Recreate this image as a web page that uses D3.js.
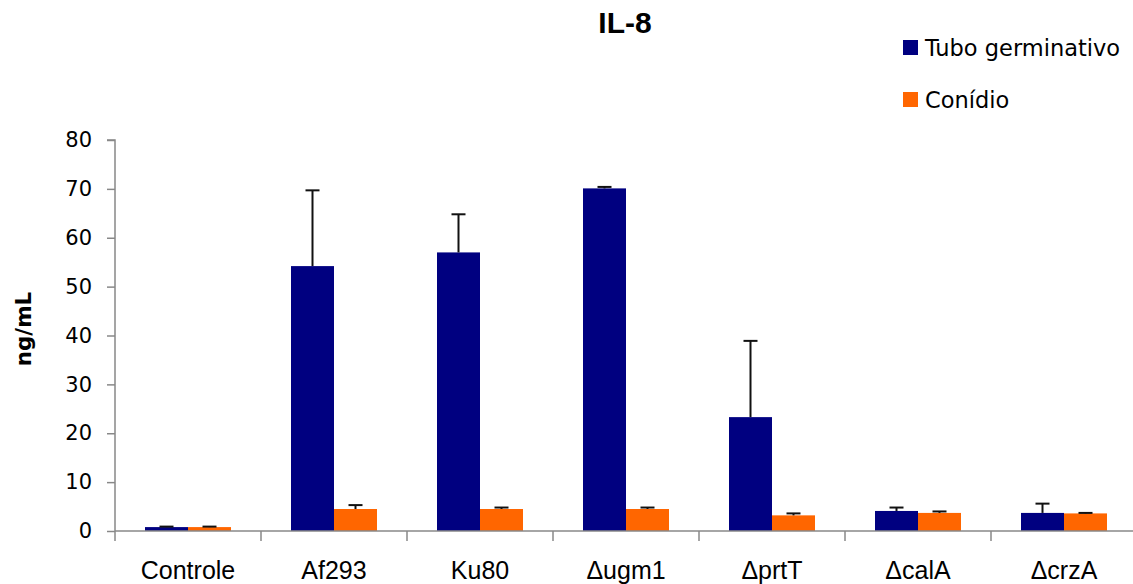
<!DOCTYPE html>
<html><head><meta charset="utf-8">
<script src="https://cdn.jsdelivr.net/npm/d3@7"></script>
<style>body{margin:0;background:#fff}svg{display:block}</style>
</head><body>
<svg id="c" width="1133" height="584"></svg>
<script>
const categories = ["Controle","Af293","Ku80","\u0394ugm1","\u0394prtT","\u0394calA","\u0394crzA"];
const seriesNames = ["Tubo germinativo","Conídio"];
const tuboValues = [0.8, 54.2, 57.0, 70.1, 23.3, 4.1, 3.7];
const tuboErrors = [0.1, 15.5, 7.8, 0.3, 15.6, 0.7, 1.9];
const conidioValues = [0.8, 4.5, 4.5, 4.5, 3.2, 3.7, 3.6];
const conidioErrors = [0.1, 0.8, 0.3, 0.3, 0.4, 0.3, 0.1];
const yTicks = [0,10,20,30,40,50,60,70,80];
const colors = ["#000080","#FF6600"];

const svg = d3.select("#c");
const x0 = 115, x1 = 1137, yTop = 140, yBot = 531;
const x = d3.scaleBand().domain(categories).range([x0, x1]).paddingInner(0).paddingOuter(0);
const y = d3.scaleLinear().domain([0,80]).range([yBot, yTop]);
const barW = 43;
const sub = d3.scaleBand().domain([0,1]).range([-barW, barW]);

// axes
const yAxis = d3.axisLeft(y).tickValues(yTicks).tickSize(8).tickPadding(15);
const gy = svg.append("g").attr("transform",`translate(${x0},0)`).call(yAxis);
gy.select(".domain").attr("stroke","#888").attr("stroke-width",1.5).attr("d",`M-8,${yTop}H0V${yBot}`);
gy.selectAll(".tick line").attr("stroke","#888").attr("stroke-width",1.5);
gy.selectAll(".tick text").attr("font-family","DejaVu Sans, Verdana, sans-serif").attr("font-size",21).attr("fill","#000");

const series = [
  {vals: tuboValues, errs: tuboErrors},
  {vals: conidioValues, errs: conidioErrors}
];
series.forEach((s,si)=>{
  const g = svg.append("g");
  categories.forEach((c,i)=>{
    const cx = x(c) + x.bandwidth()/2;
    const bx = cx + sub(si);
    g.append("rect").attr("x",bx).attr("width",barW)
      .attr("y",y(s.vals[i])).attr("height",y(0)-y(s.vals[i]))
      .attr("fill",colors[si]);
  });
});
series.forEach((s,si)=>{
  const g = svg.append("g").attr("stroke","#111").attr("stroke-width",2);
  categories.forEach((c,i)=>{
    const cx = x(c) + x.bandwidth()/2;
    const mx = cx + sub(si) + barW/2;
    const top = y(s.vals[i]+s.errs[i]);
    g.append("line").attr("x1",mx).attr("x2",mx).attr("y1",y(s.vals[i])).attr("y2",top);
    g.append("line").attr("x1",mx-7).attr("x2",mx+7).attr("y1",top).attr("y2",top);
  });
});

const xAxis = d3.axisBottom(x).tickSize(0).tickPadding(30);
const gx = svg.append("g").attr("transform",`translate(0,${yBot})`).call(xAxis);
gx.select(".domain").attr("stroke","#888").attr("stroke-width",1.5).attr("d",`M${x0},0H${x1}`);
gx.selectAll(".tick text").attr("font-family","Liberation Sans, Arial, sans-serif").attr("font-size",25).attr("fill","#000");
categories.forEach((c)=>{
  gx.append("line").attr("x1",x(c)).attr("x2",x(c)).attr("y1",0).attr("y2",10).attr("stroke","#888").attr("stroke-width",1.5);
});

// title
svg.append("text").attr("x",625).attr("y",33).attr("text-anchor","middle")
  .attr("font-family","Liberation Sans, Arial, sans-serif").attr("font-weight","bold").attr("font-size",30).text("IL-8");
// y label
svg.append("text").attr("transform","translate(31,329) rotate(-90)").attr("text-anchor","middle")
  .attr("font-family","DejaVu Sans, Verdana, sans-serif").attr("font-weight","bold").attr("font-size",21.5).text("ng/mL");

// legend
const leg = svg.append("g");
seriesNames.forEach((n,i)=>{
  const ly = 40 + i*52;
  leg.append("rect").attr("x",903).attr("y",ly).attr("width",15).attr("height",15).attr("fill",colors[i]);
  leg.append("text").attr("x",925).attr("y",ly+16).attr("font-family","DejaVu Sans, Verdana, sans-serif")
    .attr("font-size",22.5).attr("fill","#000").text(n);
});
</script>
</body></html>
